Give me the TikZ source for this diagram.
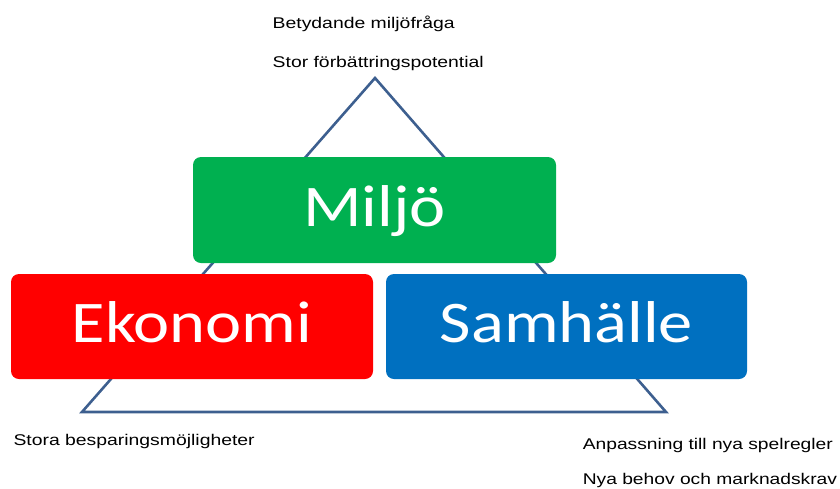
\documentclass[tikz,border=0pt]{standalone}
\usepackage{fontspec}
\setmainfont{Liberation Sans}
\newfontfamily\boxfont{Carlito}
\usepackage{graphicx}
\definecolor{miljogreen}{HTML}{00B050}
\definecolor{ekored}{HTML}{FF0000}
\definecolor{samblue}{HTML}{0070C0}
\definecolor{triblue}{HTML}{3D5F8F}
\begin{document}
\begin{tikzpicture}[x=1pt,y=-1pt,
  pillar/.style={rounded corners=8pt, minimum width=362pt, minimum height=105pt,
    inner sep=0pt, text=white, font=\boxfont\fontsize{59}{59}\selectfont,
    text height=32pt, text depth=0pt},
  note/.style={anchor=base west, inner sep=0pt, font=\fontsize{15.5}{15.5}\selectfont},
  tri/.style={draw=triblue, line width=2.6pt, line join=miter}]
\useasboundingbox (0,0) rectangle (840,488);
\coordinate (apex) at (375,78);
\coordinate (bl) at (82,412);
\coordinate (br) at (666,412);
\draw[tri] (apex) -- (bl) -- (br) -- cycle;
\node[pillar, fill=miljogreen, minimum width=363pt, minimum height=106pt] (miljo) at (374.5,210) {\scalebox{1.16}[1]{Miljö}};
\node[pillar, fill=ekored] (ekonomi) at (192,326.5) {\scalebox{1.16}[1]{Ekonomi}};
\node[pillar, fill=samblue, minimum width=361pt] (samhalle) at (566.5,326.5) {\scalebox{1.16}[1]{Samhälle}};
\node[note] (t1) at (272.5,28.7) {\scalebox{1.25}[1]{Betydande miljöfråga}};
\node[note] (t2) at (272.5,67.7) {\scalebox{1.25}[1]{Stor förbättringspotential}};
\node[note] (t3) at (13.3,445.7) {\scalebox{1.25}[1]{Stora besparingsmöjligheter}};
\node[note] (t4) at (582.6,449) {\scalebox{1.24}[1]{Anpassning till nya spelregler}};
\node[note] (t5) at (582.6,484.5) {\scalebox{1.24}[1]{Nya behov och marknadskrav}};
\end{tikzpicture}
\end{document}
